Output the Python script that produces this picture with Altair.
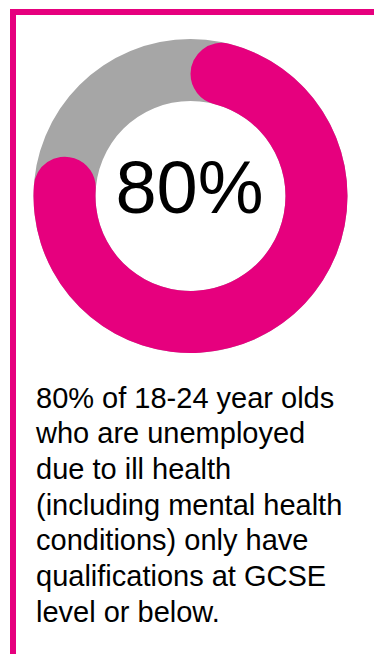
import altair as alt
import pandas as pd

# Data
categories = ["GCSE level or below", "Higher qualifications"]
values = [80, 20]
caption_lines = [
    "80% of 18-24 year olds",
    "who are unemployed",
    "due to ill health",
    "(including mental health",
    "conditions) only have",
    "qualifications at GCSE",
    "level or below.",
]

PINK = "#E6007E"
GREY = "#A6A6A6"
FONT = "Liberation Sans"

df = pd.DataFrame({"category": categories, "value": values})

W, H = 374, 654
CX, CY = 190.5, 196
R_OUT, R_IN = 157, 95

theta_scale = alt.Scale(domain=[0, 100], range=[0, 6.283185307179586])

base = alt.Chart(df)

# Frame (pink border on top and left)
frame_top = base.transform_aggregate(total="sum(value)").mark_rect(color=PINK).encode(
    x=alt.value(10), x2=alt.value(W), y=alt.value(9), y2=alt.value(15)
)
frame_left = base.transform_aggregate(total="sum(value)").mark_rect(color=PINK).encode(
    x=alt.value(10), x2=alt.value(16), y=alt.value(9), y2=alt.value(H)
)

# Grey background ring (total)
ring = base.transform_aggregate(total="sum(value)").mark_arc(
    radius=R_OUT, radius2=R_IN, color=GREY
).encode(
    theta=alt.Theta("total:Q", scale=theta_scale, stack=True),
    x=alt.value(CX), y=alt.value(CY),
)

# Pink share arc with rounded ends
share = base.transform_filter(
    alt.datum.category == categories[0]
).mark_arc(
    radius=R_OUT, radius2=R_IN, color=PINK, cornerRadius=31
).encode(
    theta=alt.Theta("value:Q", scale=theta_scale, stack=True),
    x=alt.value(CX), y=alt.value(CY),
)

center_text = base.transform_filter(
    alt.datum.category == categories[0]
).transform_calculate(
    label="datum.value + '%'"
).mark_text(
    font=FONT, fontSize=74, color="black", align="center", baseline="alphabetic"
).encode(
    text="label:N", x=alt.value(189.5), y=alt.value(213)
)

caption = base.transform_aggregate(total="sum(value)").mark_text(
    font=FONT, fontSize=29, color="black", align="left", baseline="alphabetic",
    lineHeight=35.7, text=caption_lines
).encode(
    x=alt.value(36), y=alt.value(407.5)
)

chart = alt.layer(frame_top, frame_left, ring, share, center_text, caption).properties(
    width=W, height=H, padding=0, autosize=alt.AutoSizeParams(type="none"),
    background="white"
).configure_view(stroke=None)

chart.save("out.html", embed_options={"renderer": "svg", "actions": False})
